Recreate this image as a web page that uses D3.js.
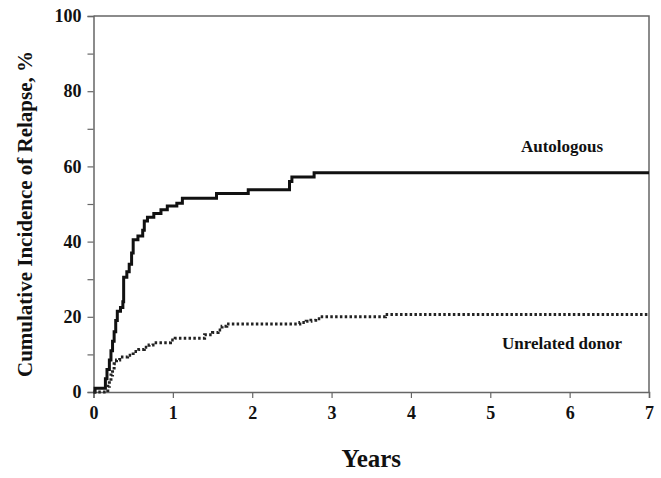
<!DOCTYPE html>
<html>
<head>
<meta charset="utf-8">
<script src="https://cdn.jsdelivr.net/npm/d3@7"></script>
<style>
  body { margin: 0; background: #fff; }
  text { font-family: "Liberation Serif", "Times New Roman", serif; font-weight: bold; fill: #111; }
</style>
</head>
<body>
<div id="chart"></div>
<script>
// The data (years, cumulative incidence %)
var autoYears   = [0, 0.02, 0.15, 0.17, 0.2, 0.22, 0.24, 0.26, 0.28, 0.3, 0.34, 0.37, 0.38, 0.42, 0.45, 0.48, 0.5, 0.56, 0.62, 0.64, 0.68, 0.76, 0.85, 0.93, 1.05, 1.12, 1.55, 1.95, 2.47, 2.5, 2.78, 7];
var autoValues  = [0, 1, 3.5, 6, 8.5, 11, 13.5, 16, 19, 21.5, 22.5, 24, 30.5, 32, 34, 37, 40.5, 41.5, 43, 45.5, 46.5, 47.5, 48.5, 49.5, 50.2, 51.5, 52.8, 53.8, 56, 57.2, 58.3, 58.3];

var unrelYears  = [0, 0.18, 0.2, 0.22, 0.24, 0.26, 0.29, 0.33, 0.43, 0.5, 0.57, 0.64, 0.7, 0.75, 0.97, 1.03, 1.4, 1.5, 1.57, 1.62, 1.68, 2.6, 2.68, 2.74, 2.8, 2.86, 3.68, 7];
var unrelValues = [0, 1.5, 3, 4.5, 6, 7.5, 8.5, 9.3, 9.8, 10.8, 11.3, 11.9, 12.5, 13.1, 13.8, 14.3, 15.2, 15.8, 16.5, 17.5, 18.1, 18.5, 18.8, 19.1, 19.5, 20, 20.6, 20.6];

var xTicks = [0, 1, 2, 3, 4, 5, 6, 7];
var yTicks = [0, 10, 20, 30, 40, 50, 60, 70, 80, 90, 100];
var yLabels = [0, 20, 40, 60, 80, 100];

// Chart dimensions
var margin = { top: 16, right: 12, bottom: 86, left: 93.5 },
    W = 661, H = 478,
    width = W - margin.left - margin.right,
    height = H - margin.top - margin.bottom;

var svg = d3.select('#chart').append('svg')
    .attr('width', W)
    .attr('height', H)
  .append('g')
    .attr('transform', 'translate(' + margin.left + ',' + margin.top + ')');

var x = d3.scaleLinear().domain([0, 7]).range([0, width]);
var y = d3.scaleLinear().domain([0, 100]).range([height, 0]);

var axisColor = '#666';

// frame (top and right)
svg.append('path')
    .attr('d', 'M0,0H' + width + 'V' + height)
    .attr('fill', 'none')
    .attr('stroke', axisColor)
    .attr('stroke-width', 1.5);

// x axis
var xAxis = svg.append('g')
    .attr('transform', 'translate(0,' + height + ')')
    .call(d3.axisBottom(x).tickValues(xTicks).tickSize(6).tickPadding(8).tickFormat(d3.format('d')));

// y axis
var yAxis = svg.append('g')
    .call(d3.axisLeft(y).tickValues(yTicks).tickSize(6).tickPadding(6)
      .tickFormat(function(d) { return yLabels.indexOf(d) >= 0 ? d : ''; }));

[xAxis, yAxis].forEach(function(a) {
  a.select('.domain').attr('stroke', axisColor).attr('stroke-width', 1.5);
  a.selectAll('.tick line').attr('stroke', axisColor).attr('stroke-width', 1.2);
  a.selectAll('.tick text')
    .style('font-family', '"Liberation Serif", "Times New Roman", serif')
    .style('font-weight', 'bold')
    .style('font-size', '18px')
    .attr('fill', '#111');
});

// curves
var line = d3.line()
    .x(function(d) { return x(d[0]); })
    .y(function(d) { return y(d[1]); })
    .curve(d3.curveStepAfter);

svg.append('path')
    .datum(d3.zip(autoYears, autoValues))
    .attr('d', line)
    .attr('fill', 'none')
    .attr('stroke', '#111')
    .attr('stroke-width', 3);

svg.append('path')
    .datum(d3.zip(unrelYears, unrelValues))
    .attr('d', line)
    .attr('fill', 'none')
    .attr('stroke', '#222')
    .attr('stroke-width', 3)
    .attr('stroke-dasharray', '2.5,2.3');

// curve labels
svg.append('text')
    .attr('x', 562 - margin.left)
    .attr('y', 152 - margin.top)
    .attr('text-anchor', 'middle')
    .style('font-size', '17px')
    .text('Autologous');

svg.append('text')
    .attr('x', 562 - margin.left)
    .attr('y', 349 - margin.top)
    .attr('text-anchor', 'middle')
    .style('font-size', '17px')
    .text('Unrelated donor');

// axis titles
svg.append('text')
    .attr('x', width / 2)
    .attr('y', 467 - margin.top)
    .attr('text-anchor', 'middle')
    .style('font-size', '25px')
    .text('Years');

svg.append('text')
    .attr('transform', 'translate(' + (32 - margin.left) + ',' + (214 - margin.top) + ') rotate(-90)')
    .attr('text-anchor', 'middle')
    .style('font-size', '21px')
    .text('Cumulative Incidence of Relapse, %');
</script>
</body>
</html>
